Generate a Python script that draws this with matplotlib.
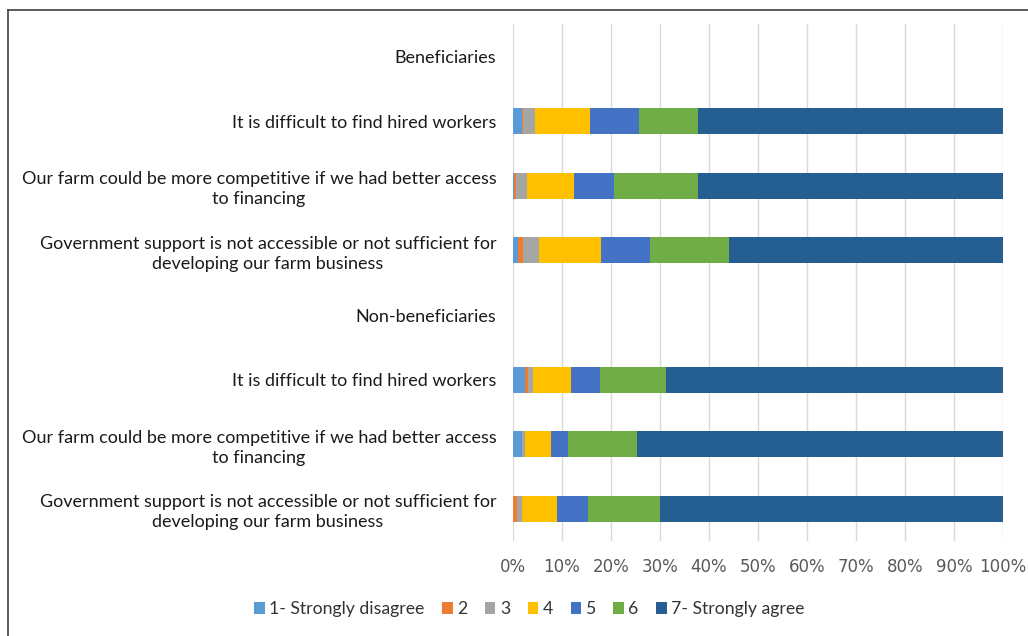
import matplotlib.pyplot as plt
import numpy as np
from matplotlib.lines import Line2D

plt.rcParams['font.family'] = ['Lato', 'DejaVu Sans']

# rows top to bottom (header rows have no bars)
labels = ['Beneficiaries',
          'It is difficult to find hired workers',
          'Our farm could be more competitive if we had better access\nto financing',
          'Government support is not accessible or not sufficient for\ndeveloping our farm business',
          'Non-beneficiaries',
          'It is difficult to find hired workers',
          'Our farm could be more competitive if we had better access\nto financing',
          'Government support is not accessible or not sufficient for\ndeveloping our farm business']

series = ['1- Strongly disagree', '2', '3', '4', '5', '6', '7- Strongly agree']
colors = ['#5b9bd5', '#ed7d31', '#a5a5a5', '#ffc000', '#4472c4', '#70ad47', '#255e91']

# share (%) per answer, one list per row
s1 = [0, 1.8, 0.2, 1.1, 0, 2.4, 1.8, 0.0]
s2 = [0, 0.2, 0.4, 0.9, 0, 0.7, 0.1, 0.75]
s3 = [0, 2.5, 2.3, 3.4, 0, 1.0, 0.5, 1.0]
s4 = [0, 11.3, 9.5, 12.6, 0, 7.7, 5.3, 7.2]
s5 = [0, 9.9, 8.3, 9.9, 0, 6.0, 3.6, 6.3]
s6 = [0, 12.0, 17.1, 16.2, 0, 13.5, 14.0, 14.7]
s7 = [0, 62.3, 62.2, 55.9, 0, 68.7, 74.7, 70.0]
data = np.array([s1, s2, s3, s4, s5, s6, s7])

fig = plt.figure(figsize=(10.28, 6.36), dpi=100)
ax = fig.add_axes([0.499, 0.149, 0.4767, 0.813])

y = np.arange(len(labels))
left = np.zeros(len(labels))
for i in range(len(series)):
    vals = data[i] / 100.0
    ax.barh(y, vals, left=left, height=0.4, color=colors[i], label=series[i], zorder=3)
    left += vals

ax.set_ylim(len(labels) - 0.5, -0.5)
ax.set_xlim(0, 1)
ax.set_xticks(np.arange(0, 1.01, 0.1))
ax.set_xticklabels([f'{int(round(v * 100))}%' for v in np.arange(0, 1.01, 0.1)],
                   fontsize=12, color='#595959', family='DejaVu Sans')
ax.set_yticks(y)
ax.set_yticklabels(labels, fontsize=13, multialignment='center', color='#1a1a1a',
                   linespacing=1.3)
ax.tick_params(axis='x', length=0, pad=12)
ax.tick_params(axis='y', length=0, pad=12)
ax.xaxis.grid(True, color='#d9d9d9', linewidth=1, zorder=0)
for sp in ax.spines.values():
    sp.set_visible(False)

fig.legend(loc='center', bbox_to_anchor=(0.515, 0.042), ncol=7, frameon=False,
           fontsize=12.7, handlelength=0.6, handleheight=0.6, handletextpad=0.25,
           columnspacing=1.0, labelcolor='#333333')

# frame (only top and left edges visible in the cropped original)
fig.add_artist(Line2D([0.008, 1.0], [0.985, 0.985], color='#404040', linewidth=1.2))
fig.add_artist(Line2D([0.008, 0.008], [0.0, 0.985], color='#404040', linewidth=1.2))

fig.savefig('out.png', dpi=100)
